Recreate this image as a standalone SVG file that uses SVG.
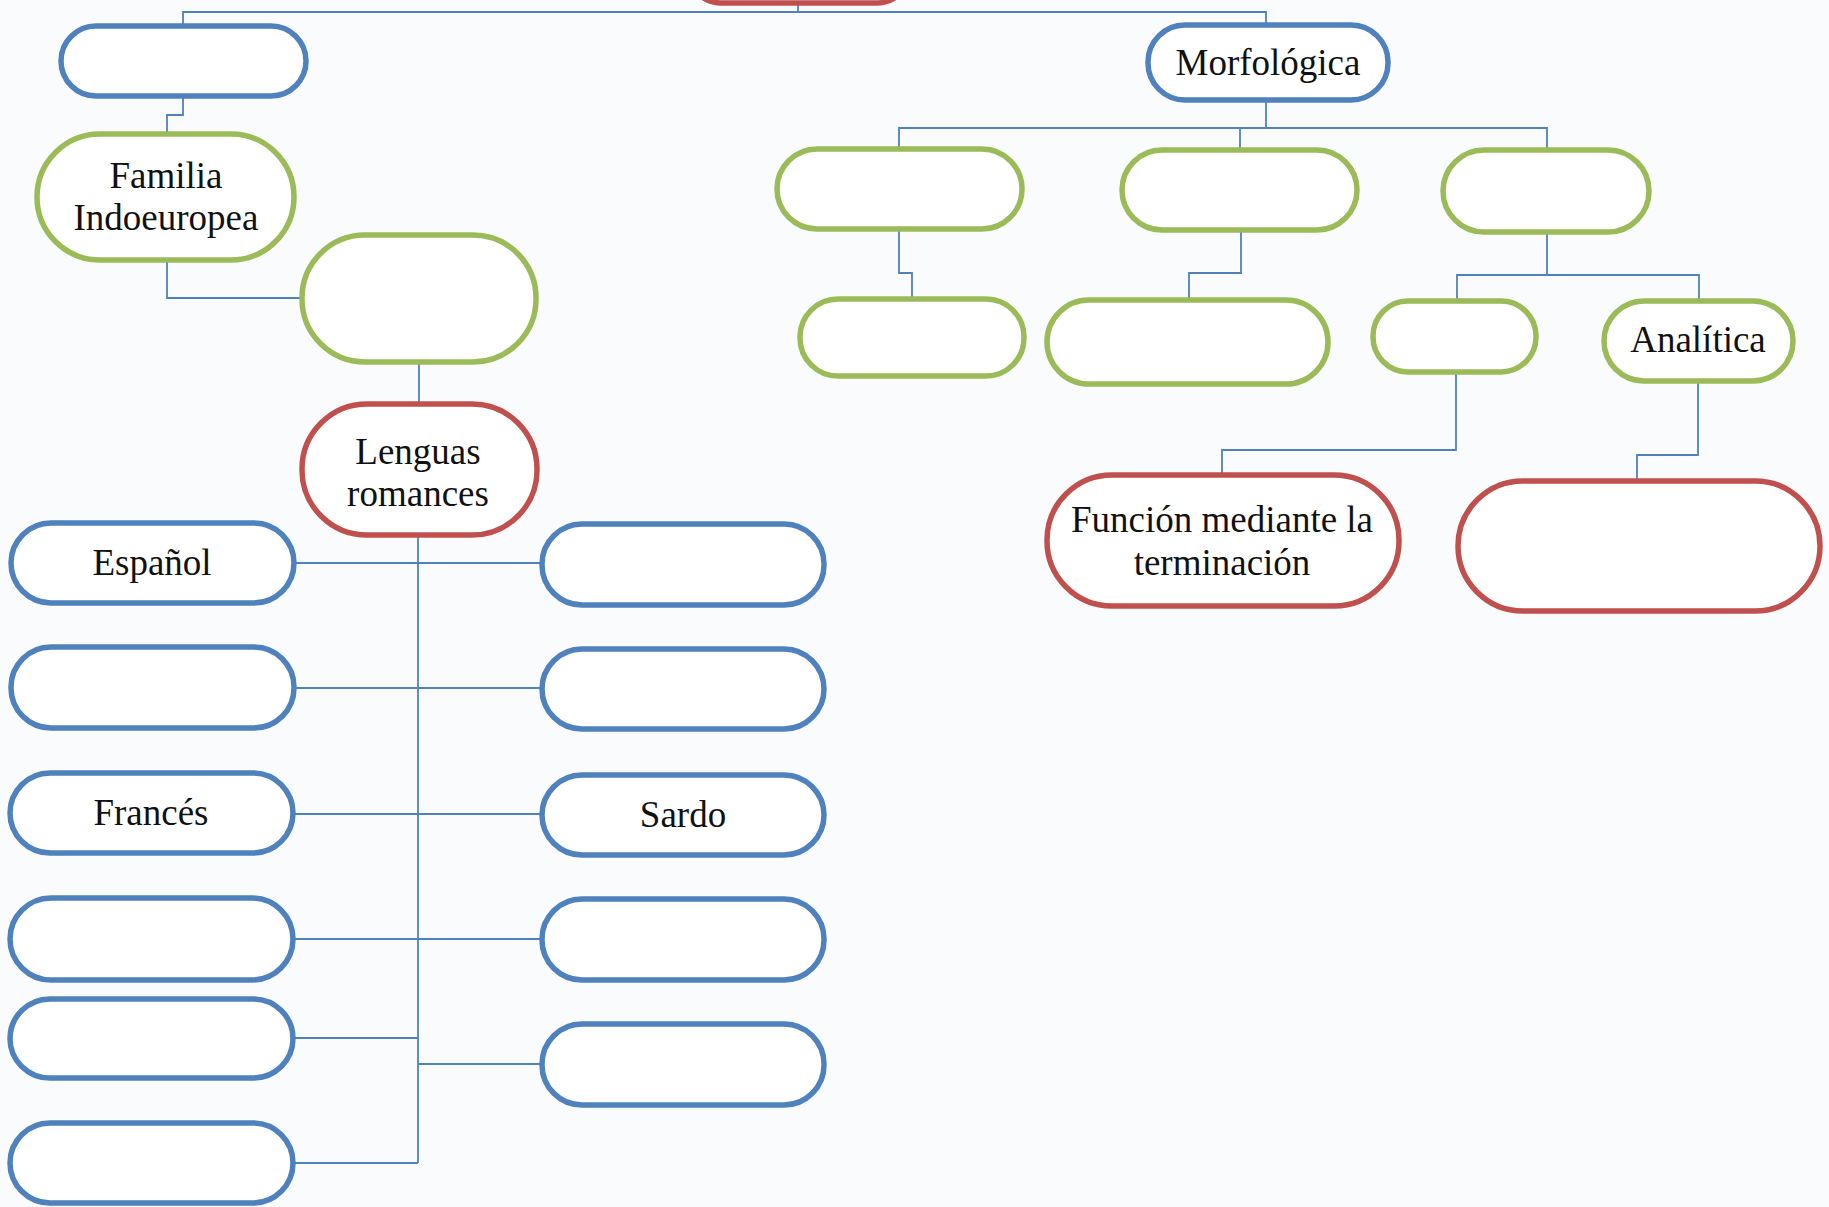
<svg xmlns="http://www.w3.org/2000/svg" width="1829" height="1207" viewBox="0 0 1829 1207">
<style>
.n{fill:#ffffff;stroke-width:5.5}
.b{stroke:#4f81bd}
.g{stroke:#9bbb59}
.r{stroke:#c0504d}
.t{font-family:"Liberation Serif","Times New Roman",serif;font-size:37px;fill:#111;text-anchor:middle}
#connectors path{fill:none;stroke:#4f81bd;stroke-width:1.8}
</style>
<rect width="1829" height="1207" fill="#fafbfc"/>
<g id="connectors">
<path d="M798,3 V12"/>
<path d="M183,26 V12 H1266 V25"/>
<path d="M183,96 V115 H167 V134"/>
<path d="M167,262 V298 H302"/>
<path d="M419,362 V403"/>
<path d="M418,535 V1163"/>
<path d="M294,563 H542"/>
<path d="M294,688 H542"/>
<path d="M294,814 H542"/>
<path d="M294,939 H542"/>
<path d="M294,1038 H418"/>
<path d="M418,1064 H542"/>
<path d="M294,1163 H418"/>
<path d="M1266,100 V128"/>
<path d="M899,150 V128 H1547 V150"/>
<path d="M1240,128 V150"/>
<path d="M899,229 V273 H912 V299"/>
<path d="M1241,230 V273 H1189 V300"/>
<path d="M1547,232 V275"/>
<path d="M1457,301 V275 H1699 V302"/>
<path d="M1456,372 V450 H1222 V475"/>
<path d="M1698,381 V455 H1637 V480"/>
</g>
<g id="root"><rect class="n r" x="686" y="-70" width="226" height="73" rx="36"/></g>
<g id="nodeA"><rect class="n b" x="61" y="26" width="245" height="70" rx="35"/></g>
<g id="familia"><rect class="n g" x="37" y="134" width="257" height="126" rx="63"/>
<text class="t" x="166" y="188">Familia</text><text class="t" x="166" y="230">Indoeuropea</text></g>
<g id="nodeB"><rect class="n g" x="302" y="235" width="234" height="127" rx="63"/></g>
<g id="lenguas"><rect class="n r" x="302" y="404" width="235" height="131" rx="65"/>
<text class="t" x="418" y="464">Lenguas</text><text class="t" x="418" y="506">romances</text></g>
<g id="espanol"><rect class="n b" x="11" y="523" width="283" height="80" rx="40"/><text class="t" x="152" y="575">Español</text></g>
<g id="left2"><rect class="n b" x="11" y="647" width="283" height="81" rx="40"/></g>
<g id="frances"><rect class="n b" x="10" y="773" width="283" height="80" rx="40"/><text class="t" x="151" y="825">Francés</text></g>
<g id="left4"><rect class="n b" x="10" y="898" width="283" height="82" rx="41"/></g>
<g id="left5"><rect class="n b" x="10" y="999" width="283" height="79" rx="40"/></g>
<g id="left6"><rect class="n b" x="10" y="1123" width="283" height="80" rx="40"/></g>
<g id="right1"><rect class="n b" x="542" y="524" width="282" height="81" rx="40"/></g>
<g id="right2"><rect class="n b" x="542" y="649" width="282" height="80" rx="40"/></g>
<g id="sardo"><rect class="n b" x="542" y="775" width="282" height="80" rx="40"/><text class="t" x="683" y="827">Sardo</text></g>
<g id="right4"><rect class="n b" x="542" y="899" width="282" height="81" rx="40"/></g>
<g id="right5"><rect class="n b" x="542" y="1024" width="282" height="81" rx="40"/></g>
<g id="morfologica"><rect class="n b" x="1148" y="25" width="240" height="75" rx="37"/><text class="t" x="1268" y="75">Morfológica</text></g>
<g id="m1"><rect class="n g" x="777" y="149" width="245" height="80" rx="40"/></g>
<g id="m2"><rect class="n g" x="1122" y="150" width="235" height="80" rx="40"/></g>
<g id="m3"><rect class="n g" x="1443" y="150" width="206" height="82" rx="41"/></g>
<g id="n1"><rect class="n g" x="800" y="299" width="224" height="77" rx="38"/></g>
<g id="n2"><rect class="n g" x="1047" y="300" width="281" height="84" rx="42"/></g>
<g id="n3"><rect class="n g" x="1373" y="301" width="163" height="71" rx="35"/></g>
<g id="analitica"><rect class="n g" x="1604" y="301" width="189" height="80" rx="40"/><text class="t" x="1698" y="352">Analítica</text></g>
<g id="funcion"><rect class="n r" x="1047" y="475" width="352" height="131" rx="65"/>
<text class="t" x="1222" y="532">Función mediante la</text><text class="t" x="1222" y="575">terminación</text></g>
<g id="nodeG"><rect class="n r" x="1458" y="481" width="362" height="130" rx="65"/></g>
</svg>
